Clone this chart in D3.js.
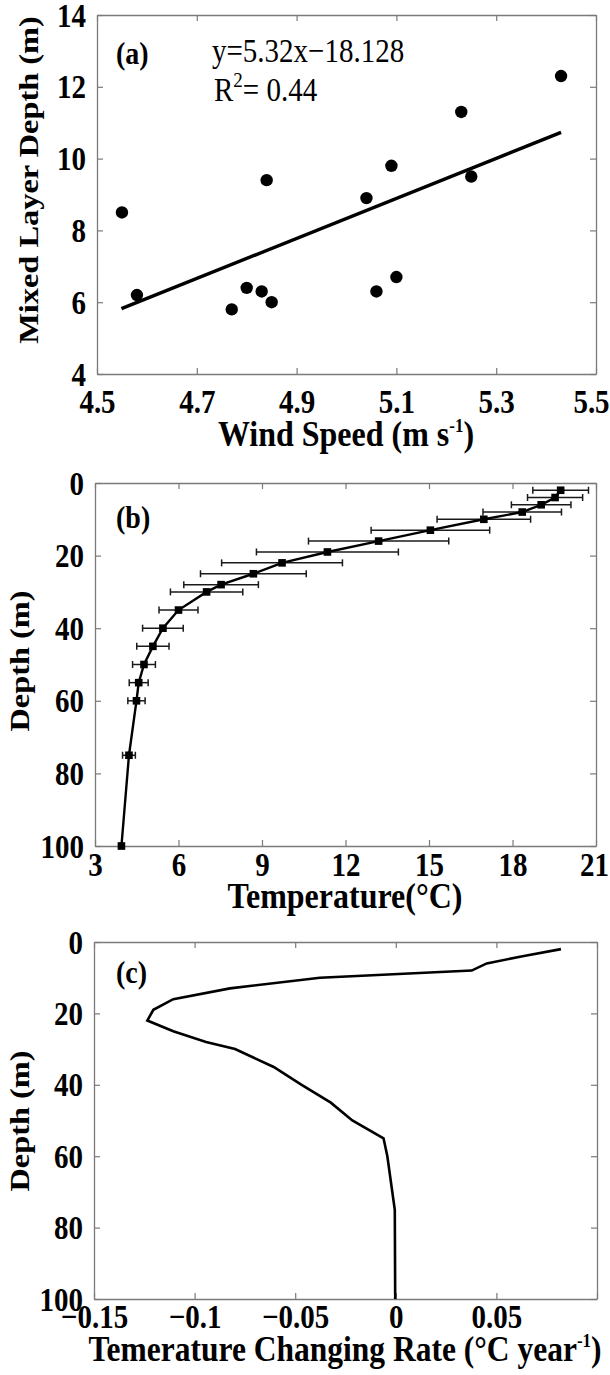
<!DOCTYPE html>
<html><head><meta charset="utf-8">
<script src="https://cdn.jsdelivr.net/npm/d3@7"></script>
<style>
body{margin:0;background:#fff}
svg{display:block}
text{font-family:"Liberation Serif","Times New Roman",serif;fill:#000}
</style>
</head><body>
<svg id="chart" width="610" height="1375"></svg>
<script>
// ---------- Panel (a) data ----------
const windSpeed = [4.55, 4.58, 4.77, 4.80, 4.83, 4.85, 4.84, 5.04, 5.06, 5.09, 5.10, 5.23, 5.25, 5.43];
const mixedLayerDepth = [8.5, 6.2, 5.8, 6.4, 6.3, 6.0, 9.4, 8.9, 6.3, 9.8, 6.7, 11.3, 9.5, 12.3];
const fitX = [4.549, 5.43];
const fitY = [5.82, 10.73];
const aXTicks = [4.5, 4.7, 4.9, 5.1, 5.3, 5.5];
const aYTicks = [4, 6, 8, 10, 12, 14];

// ---------- Panel (b) data ----------
const depths = [2, 4, 6, 8, 10, 13, 16, 19, 22, 25, 28, 30, 35, 40, 45, 50, 55, 60, 75, 100];
const temperature = [19.73, 19.53, 19.03, 18.35, 16.97, 15.05, 13.19, 11.35, 9.72, 8.69, 7.53, 7.01, 6.00, 5.44, 5.08, 4.76, 4.57, 4.49, 4.22, 3.95];
const temperatureErr = [1.0, 0.99, 1.07, 1.41, 1.68, 2.13, 2.52, 2.55, 2.17, 1.9, 1.34, 1.3, 0.70, 0.73, 0.58, 0.41, 0.34, 0.31, 0.23, 0.05];
const bXTicks = [3, 6, 9, 12, 15, 18, 21];
const depthTicks = [0, 20, 40, 60, 80, 100];

// ---------- Panel (c) data ----------
const changingRate = [0.0821, 0.063, 0.0452, 0.0377, -0.0377, -0.0824, -0.1106, -0.1205, -0.1235, -0.1106, -0.0943, -0.0799, -0.0607, -0.0468, -0.0323, -0.0216, -0.0061, -0.0042, -0.0005, -0.0003];
const cXTicks = [-0.15, -0.1, -0.05, 0, 0.05, 0.1];
const cXLabels = ["\u22120.15", "\u22120.1", "\u22120.05", "0", "0.05", ""];

const svg = d3.select("#chart");
const FRAME = "#7a7a7a";
const SY = 1.15; // vertical stretch of the lettering

function drawFrame(x, y, xTicks, xFmt, yTicks, yFmt, xBase, lastShift) {
  const [x0, x1] = x.range();
  const [y1, y0] = y.range();
  const g = svg.append("g");
  const bottom = g.append("g").attr("transform", `translate(0,${y1})`)
    .call(d3.axisBottom(x).tickValues(xTicks).tickSizeInner(-6).tickSizeOuter(0).tickFormat(xFmt));
  g.append("g").attr("transform", `translate(0,${y0})`)
    .call(d3.axisTop(x).tickValues(xTicks).tickSizeInner(-6).tickSizeOuter(0).tickFormat(""));
  const left = g.append("g").attr("transform", `translate(${x0},0)`)
    .call(d3.axisLeft(y).tickValues(yTicks).tickSizeInner(-6).tickSizeOuter(0).tickFormat(yFmt));
  g.append("g").attr("transform", `translate(${x1},0)`)
    .call(d3.axisRight(y).tickValues(yTicks).tickSizeInner(-6).tickSizeOuter(0).tickFormat(""));
  g.selectAll(".domain").attr("stroke", FRAME).attr("stroke-width", 1.3);
  g.selectAll(".tick line").attr("stroke", FRAME).attr("stroke-width", 1.2);
  g.selectAll("g").attr("font-family", null).attr("font-size", null);
  const n = xTicks.length;
  bottom.selectAll("text").attr("x", null).attr("y", null).attr("dy", null)
    .attr("transform", (d, i) => `translate(${i === n - 1 ? -(lastShift || 0) : 0},${xBase - y1}) scale(1,${SY})`)
    .style("font-size", "29px").style("font-weight", "bold");
  left.selectAll("text").attr("x", null).attr("dy", null)
    .attr("transform", `translate(-11,11) scale(1,${SY})`)
    .style("font-size", "29px").style("font-weight", "bold");
  return g;
}

function hText(x, y, size, bold, anchor) {
  return svg.append("text")
    .attr("transform", `translate(${x},${y}) scale(1,${SY})`)
    .attr("text-anchor", anchor || "start")
    .style("font-size", size + "px").style("font-weight", bold ? "bold" : "normal");
}

function yLabel(text, cx, cy) {
  svg.append("text").attr("transform", `translate(${cx},${cy}) rotate(-90) scale(1.2,1)`)
    .attr("text-anchor", "middle").style("font-size", "27px").style("font-weight", "bold")
    .text(text);
}

// ================= Panel (a) =================
const xA = d3.scaleLinear().domain([4.5, 5.5]).range([97, 596]);
const yA = d3.scaleLinear().domain([4, 14]).range([374, 15]);
drawFrame(xA, yA, aXTicks, d3.format(".1f"), aYTicks, d3.format("d"), 413, 5);

svg.append("line")
  .attr("x1", xA(fitX[0])).attr("y1", yA(fitY[0]))
  .attr("x2", xA(fitX[1])).attr("y2", yA(fitY[1]))
  .attr("stroke", "#000").attr("stroke-width", 3.5);

svg.append("g").selectAll("circle").data(windSpeed).join("circle")
  .attr("cx", d => xA(d)).attr("cy", (d, i) => yA(mixedLayerDepth[i]))
  .attr("r", 6.2).attr("fill", "#000");

hText(116, 64, 28, true).text("(a)");
hText(212, 62, 29, false).text("y=5.32x\u221218.128");
const r2 = hText(214, 101, 29, false);
r2.append("tspan").text("R");
r2.append("tspan").attr("dy", -12).style("font-size", "19px").text("2");
r2.append("tspan").attr("dy", 12).text("= 0.44");

const wl = hText(346, 446, 32, true, "middle");
wl.append("tspan").text("Wind Speed (m s");
wl.append("tspan").attr("dy", -12).style("font-size", "17px").text("-1");
wl.append("tspan").attr("dy", 12).text(")");
yLabel("Mixed Layer Depth (m)", 38, 180);

// ================= Panel (b) =================
const xB = d3.scaleLinear().domain([3, 21]).range([95, 596]);
const yB = d3.scaleLinear().domain([100, 0]).range([846, 483]);
drawFrame(xB, yB, bXTicks, d3.format("d"), depthTicks, d3.format("d"), 876, 2);

const profB = depths.map((d, i) => ({d, t: temperature[i], e: temperatureErr[i]}));
const eb = svg.append("g").attr("stroke", "#1a1a1a").attr("stroke-width", 1.5);
eb.selectAll("line.h").data(profB).join("line").attr("class", "h")
  .attr("x1", p => xB(p.t - p.e)).attr("x2", p => xB(p.t + p.e))
  .attr("y1", p => yB(p.d)).attr("y2", p => yB(p.d));
eb.selectAll("line.cl").data(profB).join("line").attr("class", "cl")
  .attr("x1", p => xB(p.t - p.e)).attr("x2", p => xB(p.t - p.e))
  .attr("y1", p => yB(p.d) - 3.5).attr("y2", p => yB(p.d) + 3.5);
eb.selectAll("line.cr").data(profB).join("line").attr("class", "cr")
  .attr("x1", p => xB(p.t + p.e)).attr("x2", p => xB(p.t + p.e))
  .attr("y1", p => yB(p.d) - 3.5).attr("y2", p => yB(p.d) + 3.5);

svg.append("path").datum(profB)
  .attr("d", d3.line().x(p => xB(p.t)).y(p => yB(p.d)))
  .attr("fill", "none").attr("stroke", "#000").attr("stroke-width", 2.4);
svg.append("g").selectAll("rect").data(profB).join("rect")
  .attr("x", p => xB(p.t) - 3.8).attr("y", p => yB(p.d) - 3.8)
  .attr("width", 7.6).attr("height", 7.6).attr("fill", "#000");

hText(116, 528, 28, true).text("(b)");
hText(345, 908, 32, true, "middle").text("Temperature(\u00B0C)");
yLabel("Depth (m)", 29, 661);

// ================= Panel (c) =================
const xC = d3.scaleLinear().domain([-0.15, 0.1]).range([94, 597]);
const yC = d3.scaleLinear().domain([100, 0]).range([1299, 942]);
drawFrame(xC, yC, cXTicks, (d, i) => cXLabels[i], depthTicks, d3.format("d"), 1328, 0);

svg.append("path").datum(depths)
  .attr("d", d3.line().x((d, i) => xC(changingRate[i])).y(d => yC(d)))
  .attr("fill", "none").attr("stroke", "#000").attr("stroke-width", 2.6)
  .attr("stroke-linejoin", "miter");

hText(116, 983, 28, true).text("(c)");
const cl = hText(345, 1361, 31.5, true, "middle");
cl.append("tspan").text("Temerature Changing Rate (\u00B0C year");
cl.append("tspan").attr("dy", -12).style("font-size", "17px").text("-1");
cl.append("tspan").attr("dy", 12).text(")");
yLabel("Depth (m)", 29, 1121);
</script>
</body></html>
